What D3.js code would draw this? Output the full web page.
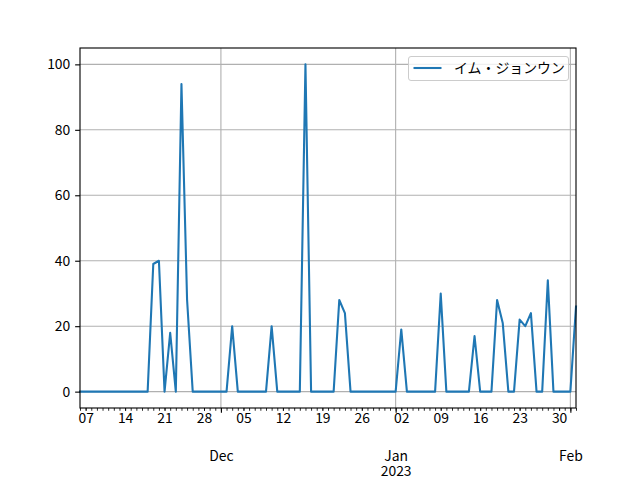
<!DOCTYPE html>
<html>
<head>
<meta charset="utf-8">
<script src="https://cdn.jsdelivr.net/npm/d3@7"></script>
<style>
  body { margin: 0; background: #fff; }
  svg { display: block; }
  text { font-family: "Noto Sans CJK JP", "Noto Sans", sans-serif; fill: #000; }
</style>
</head>
<body>
<svg id="chart" width="640" height="480"></svg>
<script>
const seriesName = "イム・ジョンウン";
const dates = [
  "2022-11-06","2022-11-07","2022-11-08","2022-11-09","2022-11-10","2022-11-11","2022-11-12","2022-11-13","2022-11-14","2022-11-15",
  "2022-11-16","2022-11-17","2022-11-18","2022-11-19","2022-11-20","2022-11-21","2022-11-22","2022-11-23","2022-11-24","2022-11-25",
  "2022-11-26","2022-11-27","2022-11-28","2022-11-29","2022-11-30",
  "2022-12-01","2022-12-02","2022-12-03","2022-12-04","2022-12-05","2022-12-06","2022-12-07","2022-12-08","2022-12-09","2022-12-10",
  "2022-12-11","2022-12-12","2022-12-13","2022-12-14","2022-12-15","2022-12-16","2022-12-17","2022-12-18","2022-12-19","2022-12-20",
  "2022-12-21","2022-12-22","2022-12-23","2022-12-24","2022-12-25","2022-12-26","2022-12-27","2022-12-28","2022-12-29","2022-12-30","2022-12-31",
  "2023-01-01","2023-01-02","2023-01-03","2023-01-04","2023-01-05","2023-01-06","2023-01-07","2023-01-08","2023-01-09","2023-01-10",
  "2023-01-11","2023-01-12","2023-01-13","2023-01-14","2023-01-15","2023-01-16","2023-01-17","2023-01-18","2023-01-19","2023-01-20",
  "2023-01-21","2023-01-22","2023-01-23","2023-01-24","2023-01-25","2023-01-26","2023-01-27","2023-01-28","2023-01-29","2023-01-30","2023-01-31",
  "2023-02-01","2023-02-02"
];
const values = [
  0,0,0,0,0,0,0,0,0,0,0,0,0, 39,40,0,18,0,94,28,0,
  0,0,0,0,0,0, 20, 0,0,0,0,0,0, 20, 0,0,0,0,0, 100, 0,0,0,0,0, 28,24,
  0,0,0,0,0,0,0,0,0, 19, 0,0,0,0,0,0, 30, 0,0,0,0,0, 17, 0,0,0,
  28,21,0,0,22,20,24,0,0,34, 0,0,0,0, 26
];
const weekTickDates = ["2022-11-07","2022-11-14","2022-11-21","2022-11-28","2022-12-05","2022-12-12","2022-12-19","2022-12-26","2023-01-02","2023-01-09","2023-01-16","2023-01-23","2023-01-30"];
const weekTickLabels = ["07","14","21","28","05","12","19","26","02","09","16","23","30"];
const monthTickDates = ["2022-12-01","2023-01-01","2023-02-01"];
const monthTickLabels = ["Dec","Jan","Feb"];
const yearTickLabels = ["","2023",""];
const yTicks = [0,20,40,60,80,100];

const PT = 100 / 72;
const FONT = '"Noto Sans CJK JP", sans-serif';
const parse = d3.utcParse("%Y-%m-%d");
const data = dates.map((d, i) => ({ date: parse(d), value: values[i] }));

const svg = d3.select("#chart");
const L = 80, R = 576, T = 48, B = 408;

const x = d3.scaleUtc()
  .domain(d3.extent(data, d => d.date))
  .range([L, R]);
const yMin = d3.min(values), yMax = d3.max(values);
const pad = (yMax - yMin) * 0.05;
const y = d3.scaleLinear().domain([yMin - pad, yMax + pad]).range([B, T]);

const monthDates = monthTickDates.map(parse);
const weekDates = weekTickDates.map(parse);
const dayDates = d3.utcDay.range(x.domain()[0], d3.utcDay.offset(x.domain()[1], 1));

// grid
const grid = svg.append("g");
grid.selectAll("line.h").data(yTicks).join("line")
  .attr("x1", L).attr("x2", R)
  .attr("y1", d => y(d)).attr("y2", d => y(d))
  .attr("stroke", "#b0b0b0").attr("stroke-width", 0.8 * PT);
grid.selectAll("line.v").data(monthDates).join("line")
  .attr("x1", d => x(d)).attr("x2", d => x(d))
  .attr("y1", T).attr("y2", B)
  .attr("stroke", "#b0b0b0").attr("stroke-width", 0.8 * PT);

// line
const line = d3.line().x(d => x(d.date)).y(d => y(d.value));
svg.append("path").datum(data)
  .attr("fill", "none")
  .attr("stroke", "#1f77b4")
  .attr("stroke-width", 1.5 * PT)
  .attr("stroke-linejoin", "round")
  .attr("stroke-linecap", "square")
  .attr("d", line);

// frame
svg.append("rect").attr("x", L).attr("y", T).attr("width", R - L).attr("height", B - T)
  .attr("fill", "none").attr("stroke", "#000").attr("stroke-width", 0.8 * PT);

// y axis
const yAxis = d3.axisLeft(y).tickValues(yTicks).tickSize(3.5 * PT).tickPadding(3.5 * PT).tickFormat(d3.format("d"));
const yg = svg.append("g").attr("transform", `translate(${L},0)`).call(yAxis);
yg.select(".domain").remove();
yg.selectAll(".tick line").attr("stroke", "#000").attr("stroke-width", 0.8 * PT);
yg.selectAll(".tick text").attr("font-size", "13.9px").attr("font-family", FONT).attr("fill", "#000");

// x minor (daily) ticks
const xDay = d3.axisBottom(x).tickValues(dayDates.filter(d => d <= x.domain()[1])).tickSize(2 * PT).tickFormat("");
const xg1 = svg.append("g").attr("transform", `translate(0,${B})`).call(xDay);
xg1.select(".domain").remove();
xg1.selectAll(".tick line").attr("stroke", "#000").attr("stroke-width", 0.6 * PT);

// weekly labels
const weekLabel = new Map(weekDates.map((d, i) => [+d, weekTickLabels[i]]));
const xWeek = d3.axisBottom(x).tickValues(weekDates).tickSize(2 * PT).tickPadding(2)
  .tickFormat(d => weekLabel.get(+d));
const xg2 = svg.append("g").attr("transform", `translate(0,${B})`).call(xWeek);
xg2.select(".domain").remove();
xg2.selectAll(".tick line").attr("stroke", "#000").attr("stroke-width", 0.6 * PT);
xg2.selectAll(".tick text").attr("font-size", "13.9px").attr("font-family", FONT).attr("fill", "#000");

// monthly major ticks with labels
const xMonth = d3.axisBottom(x).tickValues(monthDates).tickSize(3.5 * PT).tickFormat("");
const xg3 = svg.append("g").attr("transform", `translate(0,${B})`).call(xMonth);
xg3.select(".domain").remove();
xg3.selectAll(".tick line").attr("stroke", "#000").attr("stroke-width", 0.8 * PT);
xg3.selectAll(".tick").each(function(d, i) {
  const g = d3.select(this);
  g.append("text")
    .attr("text-anchor", "middle").attr("x", 0).attr("y", 53)
    .attr("font-size", "13.9px").attr("font-family", FONT).attr("fill", "#000")
    .text(monthTickLabels[i]);
  if (yearTickLabels[i]) {
    g.append("text")
      .attr("text-anchor", "middle").attr("x", 0).attr("y", 68)
      .attr("font-size", "13.9px").attr("font-family", FONT).attr("fill", "#000")
      .text(yearTickLabels[i]);
  }
});

// legend
const lg = svg.append("g");
lg.append("rect").attr("x", 408.5).attr("y", 56.5).attr("width", 160).attr("height", 24)
  .attr("rx", 2.5).attr("fill", "#fff").attr("fill-opacity", 0.8)
  .attr("stroke", "#cccccc").attr("stroke-width", 1);
lg.append("line").attr("x1", 413.5).attr("x2", 441.5).attr("y1", 68).attr("y2", 68)
  .attr("stroke", "#1f77b4").attr("stroke-width", 1.5 * PT);
lg.append("text").attr("x", 454).attr("y", 73).attr("font-size", "13.9px").attr("font-family", FONT).text(seriesName);
</script>
</body>
</html>
